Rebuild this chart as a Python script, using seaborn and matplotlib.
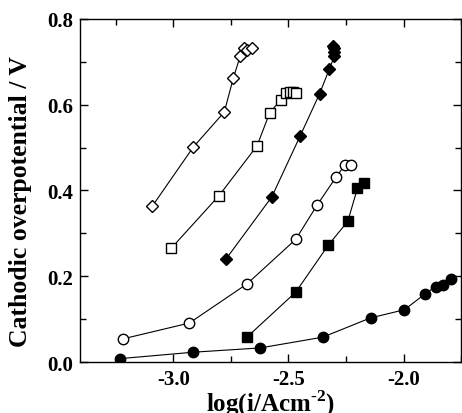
import pandas as pd
import matplotlib.pyplot as plt
import seaborn as sns
from matplotlib.ticker import MultipleLocator

# open diamonds
od_x = [-3.090, -2.913, -2.778, -2.739, -2.709, -2.691, -2.680, -2.659]
od_y = [0.364, 0.501, 0.583, 0.662, 0.713, 0.731, 0.728, 0.731]
# open squares
os_x = [-3.009, -2.801, -2.636, -2.581, -2.532, -2.509, -2.494, -2.480, -2.467]
os_y = [0.265, 0.388, 0.504, 0.581, 0.612, 0.628, 0.630, 0.629, 0.628]
# filled diamonds
fd_x = [-2.771, -2.572, -2.448, -2.364, -2.322, -2.300, -2.300, -2.303, -2.307]
fd_y = [0.240, 0.385, 0.528, 0.626, 0.683, 0.713, 0.722, 0.731, 0.736]
# open circles
oc_x = [-3.219, -2.930, -2.680, -2.468, -2.375, -2.293, -2.254, -2.230]
oc_y = [0.054, 0.091, 0.182, 0.286, 0.366, 0.431, 0.460, 0.459]
# filled squares
fs_x = [-2.680, -2.468, -2.326, -2.242, -2.200, -2.170]
fs_y = [0.058, 0.163, 0.273, 0.328, 0.405, 0.417]
# filled circles
fc_x = [-3.232, -2.913, -2.622, -2.351, -2.143, -1.996, -1.906, -1.861, -1.829, -1.793]
fc_y = [0.008, 0.023, 0.033, 0.058, 0.103, 0.122, 0.159, 0.176, 0.179, 0.193]

series = [
    (od_x, od_y, "D", "white", 6.5),
    (os_x, os_y, "s", "white", 7.5),
    (fd_x, fd_y, "D", "black", 6.5),
    (oc_x, oc_y, "o", "white", 7.5),
    (fs_x, fs_y, "s", "black", 7),
    (fc_x, fc_y, "o", "black", 7.5),
]

sns.set_theme(style="ticks")
plt.rcParams["font.family"] = ["Liberation Serif", "DejaVu Serif"]
plt.rcParams["font.weight"] = "bold"
plt.rcParams["axes.unicode_minus"] = False
plt.rcParams["mathtext.fontset"] = "custom"
plt.rcParams["mathtext.rm"] = "Liberation Serif:bold"
plt.rcParams["mathtext.bf"] = "Liberation Serif:bold"
for k in ["text.color", "axes.labelcolor", "xtick.color", "ytick.color"]:
    plt.rcParams[k] = "black"

fig = plt.figure(figsize=(4.62, 4.14), dpi=100)
ax = fig.add_axes([0.173, 0.123, 0.825, 0.829])

for xs, ys, mk, fc, ms in series:
    df = pd.DataFrame({"x": xs, "y": ys})
    sns.lineplot(
        data=df, x="x", y="y", ax=ax, sort=False, estimator=None,
        color="black", linewidth=0.8, marker=mk, markersize=ms,
        markerfacecolor=fc, markeredgecolor="black", markeredgewidth=1.0,
    )

ax.set_xlim(-3.405, -1.75)
ax.set_ylim(0.0, 0.8)
ax.xaxis.set_major_locator(MultipleLocator(0.5))
ax.xaxis.set_minor_locator(MultipleLocator(0.25))
ax.yaxis.set_major_locator(MultipleLocator(0.2))
ax.yaxis.set_minor_locator(MultipleLocator(0.1))
ax.xaxis.set_major_formatter(plt.FuncFormatter(lambda v, p: f"{v:.1f}"))
ax.yaxis.set_major_formatter(plt.FuncFormatter(lambda v, p: f"{v:.1f}"))
ax.tick_params(which="both", direction="in", top=True, right=True,
               labelsize=15, width=1.0, color="black")
ax.tick_params(which="major", length=6, pad=5)
ax.tick_params(which="minor", length=4)
for s in ax.spines.values():
    s.set_linewidth(1.0)
    s.set_color("black")

ax.set_xlabel("log(i/Acm$^{\\text{-2}}$)", fontsize=18, fontweight="bold", labelpad=-1)
ax.set_ylabel("Cathodic overpotential / V", fontsize=18.5, fontweight="bold")
ax.yaxis.set_label_coords(-0.125, 0.47)

fig.savefig("out.png", dpi=100)
